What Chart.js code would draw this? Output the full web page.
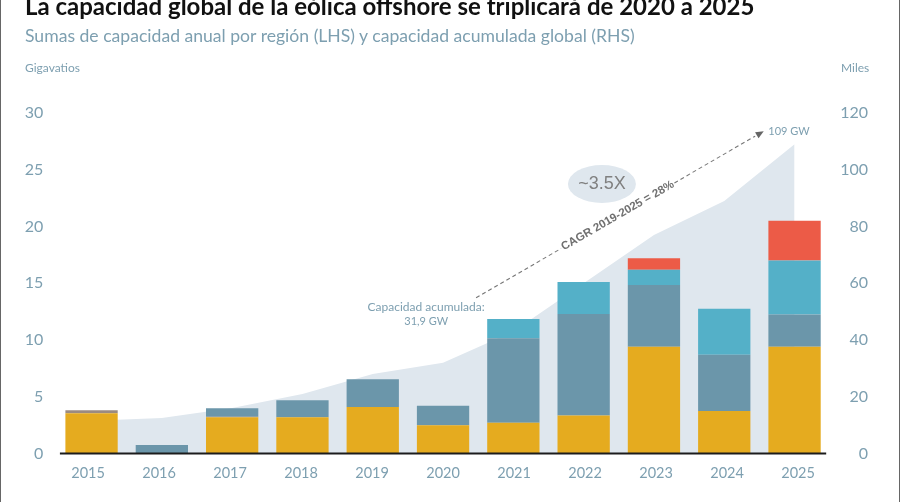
<!DOCTYPE html>
<html><head><meta charset="utf-8">
<style>
html,body{margin:0;padding:0;background:#fff;overflow:hidden}
#wrap{position:relative;width:900px;height:502px;overflow:hidden}
canvas{position:absolute;left:0;top:0}
.t{position:absolute;white-space:nowrap;font-family:Lato,sans-serif;transform-origin:left center}
#frameL,#frameR{position:absolute;top:0;bottom:0;width:1px;background:#666}
#frameL{left:0}#frameR{right:0}
</style></head><body>
<div id="wrap">
<canvas id="c" width="900" height="502"></canvas>
<div id="frameL"></div><div id="frameR"></div>
<div class="t" style="left:25px;top:-9px;font-size:24px;font-weight:700;color:#111">La capacidad global de la eólica offshore se triplicará de 2020 a 2025</div>
<div class="t" style="left:25px;top:25px;font-size:17.6px;color:#7d9fb0">Sumas de capacidad anual por región (LHS) y capacidad acumulada global (RHS)</div>
<div class="t" style="left:25px;top:60px;font-size:12px;color:#7d9fb0">Gigavatios</div>
<div class="t" style="left:841px;top:60px;font-size:12px;color:#7d9fb0">Miles</div>
</div>
<script src="https://cdn.jsdelivr.net/npm/chart.js@4"></script>
<script>
const years = ["2015","2016","2017","2018","2019","2020","2021","2022","2023","2024","2025"];
const yellowSeries = [3.55,0,3.2,3.2,4.1,2.5,2.7,3.35,9.4,3.75,9.4];
const brownSeries  = [0.25,0,0.03,0,0,0,0,0,0,0,0];
const slateSeries  = [0,0.75,0.75,1.5,2.45,1.7,7.45,8.95,5.45,4.95,2.85];
const tealSeries   = [0,0,0,0,0,0,1.7,2.8,1.35,4.05,4.75];
const redSeries    = [0,0,0,0,0,0,0,0,1.0,0,3.5];
const cumulative   = [11.5,12.5,16,21,28,32,43,60,77,89,109];
const leftTicks    = [0,5,10,15,20,25,30];
const rightTicks   = [0,20,40,60,80,100,120];

const labelColor = "#7d9fb0";
const overlay = {
  id:"overlay",
  afterDatasetsDraw(ch){
    const {ctx,scales:{x,y2,y}} = ch;
    const px=v=>x.getPixelForValue(v), py=v=>y2.getPixelForValue(v);
    ctx.save();
    // baseline
    ctx.strokeStyle="#1c1c1c";ctx.lineWidth=2;
    ctx.beginPath();ctx.moveTo(px(-0.45),y.getPixelForValue(0));ctx.lineTo(px(10.45),y.getPixelForValue(0));ctx.stroke();
    // growth arrow, split around its label
    const x0=px(5.47),y0=py(54.9),x1=px(9.5),y1=py(112.7);
    ctx.strokeStyle="#777";ctx.lineWidth=1.1;ctx.setLineDash([4,3]);
    const seg=(a,b)=>{ctx.beginPath();ctx.moveTo(x0+(x1-x0)*a,y0+(y1-y0)*a);ctx.lineTo(x0+(x1-x0)*b,y0+(y1-y0)*b);ctx.stroke();};
    seg(0,0.30);seg(0.70,0.985);
    ctx.setLineDash([]);
    const ang=Math.atan2(y1-y0,x1-x0);
    ctx.fillStyle="#666";ctx.translate(x1,y1);ctx.rotate(ang);
    ctx.beginPath();ctx.moveTo(5,0);ctx.lineTo(-3,-3.5);ctx.lineTo(-3,3.5);ctx.closePath();ctx.fill();
    ctx.setTransform(1,0,0,1,0,0);
    // rotated label
    ctx.translate(x0+(x1-x0)*0.5,y0+(y1-y0)*0.5);ctx.rotate(ang);
    ctx.fillStyle="#707070";ctx.font="bold 11.5px 'Liberation Sans'";ctx.textAlign="center";ctx.textBaseline="middle";
    ctx.fillText("CAGR 2019-2025 = 28%",0,0);
    ctx.setTransform(1,0,0,1,0,0);
    // ellipse
    ctx.fillStyle="#dfe7ee";ctx.beginPath();ctx.ellipse(px(7.26),py(95),34,19,0,0,Math.PI*2);ctx.fill();
    ctx.fillStyle="#808080";ctx.font="18px 'Liberation Sans'";ctx.fillText("~3.5X",px(7.26),py(95));
    // value labels
    ctx.fillStyle=labelColor;ctx.font="11px Lato";
    ctx.fillText("109 GW",px(9.92),py(113.5));
    ctx.font="12px Lato";
    ctx.fillText("Capacidad acumulada:",px(4.76),py(51.5));
    ctx.font="11px Lato";
    ctx.fillText("31,9 GW",px(4.76),py(46.7));
    ctx.restore();
  }
};
const bar=(label,data,color)=>({type:"bar",label,data,backgroundColor:color,stack:"s",yAxisID:"y",order:1,
  barPercentage:0.744,categoryPercentage:1,borderWidth:0});
new Chart(document.getElementById("c"),{
  data:{labels:years,datasets:[
    bar("Amarillo",yellowSeries,"#e5ab1f"),
    bar("Marrón",brownSeries,"#9b8b80"),
    bar("Pizarra",slateSeries,"#6b96aa"),
    bar("Turquesa",tealSeries,"#54b0c8"),
    bar("Rojo",redSeries,"#ec5b47"),
    {type:"line",label:"Acumulada",data:cumulative,yAxisID:"y2",order:2,fill:"origin",
     backgroundColor:"#dfe7ee",borderWidth:0,pointRadius:0,tension:0}
  ]},
  options:{
    responsive:false,animation:false,devicePixelRatio:1,
    layout:{padding:{left:0,right:32,top:113,bottom:0}},
    plugins:{legend:{display:false},title:{display:false},tooltip:{enabled:false}},
    scales:{
      x:{stacked:true,grid:{display:false},border:{display:false},
        ticks:{color:labelColor,font:{family:"Lato",size:14.5},padding:3,maxRotation:0},
        afterFit(s){
          s.height=48.5;
          const base=s.getPixelForTick.bind(s);
          s.getPixelForTick=i=>base(i)+(i-5)*0.7;
        }},
      y:{stacked:true,position:"left",min:0,max:30,grid:{display:false},border:{display:false},
        afterBuildTicks(s){s.ticks=leftTicks.map(value=>({value}));},
        ticks:{color:labelColor,font:{family:"Lato",size:16},padding:5},
        afterFit(s){s.width=56.4;}},
      y2:{position:"right",min:0,max:120,grid:{display:false},border:{display:false},
        afterBuildTicks(s){s.ticks=rightTicks.map(value=>({value}));},
        ticks:{color:labelColor,font:{family:"Lato",size:16},padding:5,crossAlign:"far"},
        afterFit(s){s.width=38.3;}}
    }
  },
  plugins:[overlay]
});
</script>
</body></html>
